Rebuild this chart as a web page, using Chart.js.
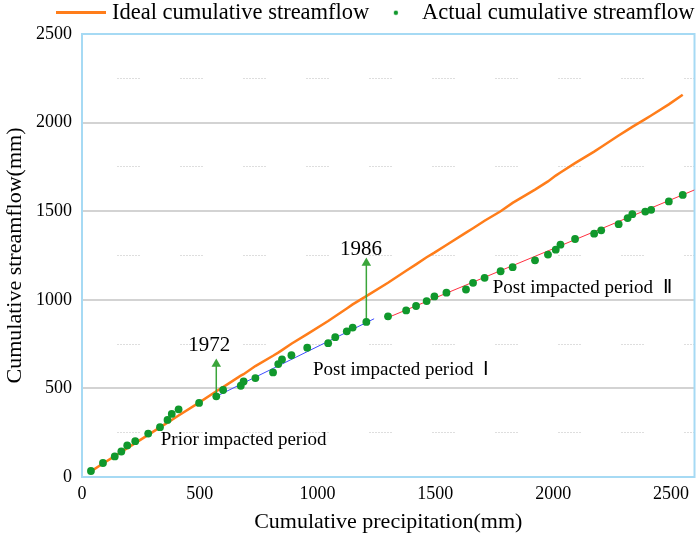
<!DOCTYPE html>
<html>
<head>
<meta charset="utf-8">
<script src="https://cdn.jsdelivr.net/npm/chart.js@4.4.1/dist/chart.umd.min.js"></script>
<style>
  html, body { margin: 0; padding: 0; background: #fff; }
  #wrap { width: 700px; height: 535px; }
</style>
</head>
<body>
<div id="wrap"><canvas id="chart"></canvas></div>
<script>
// Cumulative precipitation (mm), one value per year
const precip = [38, 89, 139, 167, 192, 226, 281, 331, 363, 381, 410, 497, 570,
  599, 674, 686, 736, 811, 833, 849, 889, 956, 1045, 1075, 1124, 1149, 1207,
  1299, 1376, 1418, 1463, 1496, 1547, 1630, 1660, 1709, 1777, 1828, 1923, 1978,
  2011, 2031, 2093, 2174, 2204, 2278, 2316, 2336, 2391, 2416, 2491, 2550];
// Actual cumulative streamflow (mm)
const actualFlow = [34, 79, 116, 144, 178, 202, 245, 281, 322, 356, 382, 418, 455,
  491, 515, 539, 558, 590, 637, 663, 687, 730, 755, 789, 822, 843, 875,
  907, 940, 965, 993, 1019, 1040, 1058, 1096, 1124, 1161, 1184, 1223, 1255,
  1283, 1311, 1343, 1373, 1392, 1427, 1461, 1483, 1498, 1508, 1555, 1592];
// Ideal cumulative streamflow (mm)
const idealFlow = [32, 76, 118, 141, 163, 191, 238, 280, 307, 322, 347, 420, 484,
  507, 572, 580, 626, 684, 702, 716, 752, 806, 880, 907, 951, 974, 1021,
  1096, 1164, 1200, 1240, 1266, 1309, 1379, 1404, 1446, 1500, 1547, 1622, 1668,
  1701, 1718, 1771, 1836, 1862, 1927, 1959, 1976, 2020, 2040, 2103, 2157];

// fitted lines of the two post impacted periods
const fit1X = [570, 1240];
const fit1Y = [455, 893];
const fit2X = [1290, 2600];
const fit2Y = [895, 1620];

// change point arrows
const arrowYears = ['1972', '1986'];
const arrowX = [570, 1207];
const arrowFrom = [455, 875];
const arrowTo = [637, 1208];
const yearLabelX = [540, 1184];
const yearLabelY = [744, 1283];

const periodLabels = ['Prior impacted period', 'Post impacted period  \u2160', 'Post impacted period  \u2161'];
const periodLabelX = [686, 1354, 2123];
const periodLabelY = [210, 603, 1068];

const xTickValues = [0, 500, 1000, 1500, 2000, 2500];
const yTickValues = [0, 250, 500, 750, 1000, 1250, 1500, 1750, 2000, 2250, 2500];

const ORANGE = '#ff7d1a', GREEN = '#10982c', ARROW = '#3aa53a';
const SERIF = '"Liberation Serif", "Times New Roman", serif';
Chart.defaults.font.family = SERIF;
Chart.defaults.color = '#000';

function pts(xs, ys) { return xs.map((v, i) => ({ x: v, y: ys[i] })); }

function swatch(w, h, draw) {
  let c = document.createElement('canvas');
  c.width = w; c.height = h;
  draw(c.getContext('2d'));
  return c;
}
const lineSwatch = swatch(50, 3, g => { g.fillStyle = ORANGE; g.fillRect(0, 0, 50, 3); });
const dotSwatch = swatch(16, 6, g => { g.fillStyle = GREEN; g.beginPath(); g.arc(13, 3, 2.2, 0, Math.PI * 2); g.fill(); });

let datasets = [
  { label: 'Actual cumulative streamflow', data: pts(precip, actualFlow), showLine: false,
    pointRadius: 3.9, pointBackgroundColor: GREEN, pointBorderWidth: 0, order: 0 },
  { label: 'Ideal cumulative streamflow', data: pts(precip, idealFlow), borderColor: ORANGE,
    borderWidth: 2.5, pointRadius: 0, tension: 0, order: 3 },
  { label: 'fit1', data: pts(fit1X, fit1Y), borderColor: '#3f4dff', borderWidth: 1, pointRadius: 0, order: 2 },
  { label: 'fit2', data: pts(fit2X, fit2Y), borderColor: '#ff3040', borderWidth: 1, pointRadius: 0, order: 2 }
];
arrowX.forEach((ax, i) => {
  datasets.push({ label: 'arrow' + i, data: [{ x: ax, y: arrowFrom[i] }, { x: ax, y: arrowTo[i] }],
    borderColor: ARROW, borderWidth: 1.5, pointStyle: 'triangle', pointRadius: [0, 5.5],
    pointBackgroundColor: ARROW, pointBorderWidth: 0, order: 1 });
});

const notes = {
  id: 'notes',
  beforeDatasetsDraw(chart) {
    let { ctx, chartArea: a } = chart;
    ctx.save();
    ctx.strokeStyle = '#a6daf4';
    ctx.lineWidth = 2;
    ctx.strokeRect(a.left, a.top, a.width, a.height);
    ctx.restore();
  },
  afterDatasetsDraw(chart) {
    let { ctx, scales: { x, y } } = chart;
    ctx.save();
    ctx.fillStyle = '#000';
    ctx.textAlign = 'center';
    ctx.textBaseline = 'middle';
    ctx.font = '19px ' + SERIF;
    periodLabels.forEach((t, i) => ctx.fillText(t, x.getPixelForValue(periodLabelX[i]), y.getPixelForValue(periodLabelY[i])));
    ctx.font = '21px ' + SERIF;
    arrowYears.forEach((t, i) => ctx.fillText(t, x.getPixelForValue(yearLabelX[i]), y.getPixelForValue(yearLabelY[i])));
    ctx.restore();
  }
};

new Chart(document.getElementById('chart').getContext('2d'), {
  type: 'line',
  data: { datasets },
  plugins: [notes],
  options: {
    responsive: true,
    maintainAspectRatio: false,
    animation: false,
    layout: { padding: { left: 2, right: 4, top: 0, bottom: 0 } },
    plugins: {
      tooltip: { enabled: false },
      legend: {
        position: 'top',
        align: 'end',
        labels: {
          font: { size: 22.5 },
          usePointStyle: true,
          pointStyleWidth: 40,
          padding: 1.5,
          generateLabels: () => [
            { text: 'Ideal cumulative streamflow', pointStyle: lineSwatch, fillStyle: ORANGE, strokeStyle: ORANGE, lineWidth: 0, datasetIndex: 1, hidden: false },
            { text: 'Actual cumulative streamflow', pointStyle: dotSwatch, fillStyle: GREEN, strokeStyle: GREEN, lineWidth: 0, datasetIndex: 0, hidden: false }
          ]
        }
      }
    },
    scales: {
      x: {
        type: 'linear',
        min: 0,
        max: 2600,
        afterBuildTicks: s => { s.ticks = xTickValues.map(v => ({ value: v })); },
        afterFit: s => { s.height = 58; },
        grid: { display: false, drawTicks: false },
        border: { display: false },
        ticks: { font: { size: 18 }, padding: 6, callback: v => String(v) },
        title: { display: true, text: 'Cumulative precipitation(mm)', font: { size: 22 }, padding: { top: 0, bottom: 0 } }
      },
      y: {
        min: 0,
        max: 2500,
        afterBuildTicks: s => { s.ticks = yTickValues.map(v => ({ value: v })); },
        afterFit: s => { s.width = 80; },
        grid: {
          drawTicks: false,
          color: c => (c.tick.value === 0 || c.tick.value === 2500) ? 'rgba(0,0,0,0)' : (c.tick.value % 500 === 0 ? '#d3d3d3' : '#bdbdbd'),
          lineWidth: c => c.tick && c.tick.value % 500 === 0 ? 2 : 1
        },
        border: {
          display: false,
          dash: c => (c.tick && c.tick.value % 500 !== 0) ? [1, 2, 1, 2, 1, 2, 1, 2, 1, 2, 1, 2, 1, 2, 1, 41] : [],
          dashOffset: 27.5
        },
        ticks: { font: { size: 18 }, padding: 10, autoSkip: false, callback: v => v % 500 === 0 ? String(v) : '' },
        title: { display: true, text: 'Cumulative streamflow(mm)', font: { size: 22 }, padding: { top: 0, bottom: 0 } }
      }
    }
  }
});
</script>
</body>
</html>
